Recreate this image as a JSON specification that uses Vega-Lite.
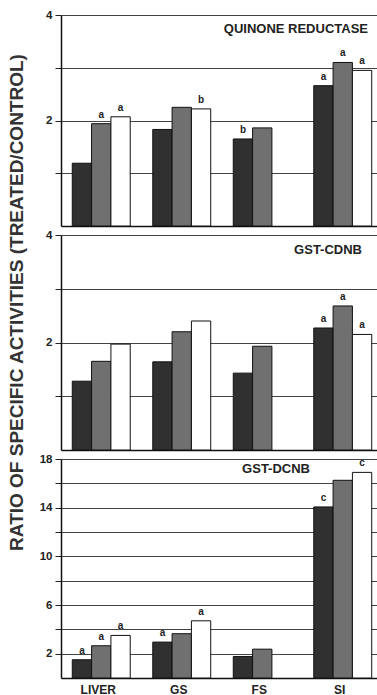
{
  "$schema": "https://vega.github.io/schema/vega-lite/v6.json",
  "padding": {"left": 6, "top": 9, "right": 0, "bottom": 0},
  "bounds": "flush",
  "spacing": 9,
  "config": {
    "view": {"stroke": null},
    "font": "Liberation Sans",
    "axis": {
      "labelFont": "Liberation Sans",
      "labelFontWeight": "bold",
      "labelColor": "#222",
      "domainColor": "#111",
      "domainWidth": 1.5,
      "tickColor": "#222",
      "gridColor": "#444",
      "gridWidth": 1,
      "gridOpacity": 1
    },
    "title": {"font": "Liberation Sans", "fontWeight": "bold", "fontSize": 13, "color": "#222"}
  },
  "datasets": {
    "d": [
      {"panel": "QR", "tissue": "LIVER", "trt": "T1", "value": 1.19, "sig": ""},
      {"panel": "QR", "tissue": "LIVER", "trt": "T2", "value": 1.94, "sig": "a"},
      {"panel": "QR", "tissue": "LIVER", "trt": "T3", "value": 2.07, "sig": "a"},
      {"panel": "QR", "tissue": "GS", "trt": "T1", "value": 1.83, "sig": ""},
      {"panel": "QR", "tissue": "GS", "trt": "T2", "value": 2.25, "sig": ""},
      {"panel": "QR", "tissue": "GS", "trt": "T3", "value": 2.22, "sig": "b"},
      {"panel": "QR", "tissue": "FS", "trt": "T1", "value": 1.65, "sig": "b"},
      {"panel": "QR", "tissue": "FS", "trt": "T2", "value": 1.86, "sig": ""},
      {"panel": "QR", "tissue": "SI", "trt": "T1", "value": 2.66, "sig": "a"},
      {"panel": "QR", "tissue": "SI", "trt": "T2", "value": 3.1, "sig": "a"},
      {"panel": "QR", "tissue": "SI", "trt": "T3", "value": 2.95, "sig": "a"},
      {"panel": "CDNB", "tissue": "LIVER", "trt": "T1", "value": 1.28, "sig": ""},
      {"panel": "CDNB", "tissue": "LIVER", "trt": "T2", "value": 1.65, "sig": ""},
      {"panel": "CDNB", "tissue": "LIVER", "trt": "T3", "value": 1.97, "sig": ""},
      {"panel": "CDNB", "tissue": "GS", "trt": "T1", "value": 1.64, "sig": ""},
      {"panel": "CDNB", "tissue": "GS", "trt": "T2", "value": 2.2, "sig": ""},
      {"panel": "CDNB", "tissue": "GS", "trt": "T3", "value": 2.4, "sig": ""},
      {"panel": "CDNB", "tissue": "FS", "trt": "T1", "value": 1.43, "sig": ""},
      {"panel": "CDNB", "tissue": "FS", "trt": "T2", "value": 1.93, "sig": ""},
      {"panel": "CDNB", "tissue": "SI", "trt": "T1", "value": 2.27, "sig": "a"},
      {"panel": "CDNB", "tissue": "SI", "trt": "T2", "value": 2.68, "sig": "a"},
      {"panel": "CDNB", "tissue": "SI", "trt": "T3", "value": 2.15, "sig": "a"},
      {"panel": "DCNB", "tissue": "LIVER", "trt": "T1", "value": 1.5, "sig": "a"},
      {"panel": "DCNB", "tissue": "LIVER", "trt": "T2", "value": 2.65, "sig": "a"},
      {"panel": "DCNB", "tissue": "LIVER", "trt": "T3", "value": 3.5, "sig": "a"},
      {"panel": "DCNB", "tissue": "GS", "trt": "T1", "value": 2.95, "sig": "a"},
      {"panel": "DCNB", "tissue": "GS", "trt": "T2", "value": 3.64, "sig": ""},
      {"panel": "DCNB", "tissue": "GS", "trt": "T3", "value": 4.7, "sig": "a"},
      {"panel": "DCNB", "tissue": "FS", "trt": "T1", "value": 1.77, "sig": ""},
      {"panel": "DCNB", "tissue": "FS", "trt": "T2", "value": 2.37, "sig": ""},
      {"panel": "DCNB", "tissue": "SI", "trt": "T1", "value": 14.06, "sig": "c"},
      {"panel": "DCNB", "tissue": "SI", "trt": "T2", "value": 16.25, "sig": ""},
      {"panel": "DCNB", "tissue": "SI", "trt": "T3", "value": 16.9, "sig": "c"}
    ]
  },
  "vconcat": [
    {
      "width": 322,
      "height": 211,
      "data": {"name": "d"},
      "transform": [{"filter": "datum.panel === 'QR'"}],
      "title": {"text": "QUINONE REDUCTASE", "anchor": "end", "frame": "group", "orient": "top", "baseline": "bottom", "offset": -40, "dx": -15},
      "encoding": {
        "x": {"field": "tissue", "type": "nominal", "sort": ["LIVER", "GS", "FS", "SI"],
          "scale": {"paddingInner": 0.28, "paddingOuter": 0.14},
          "axis": {"title": null, "labels": false, "ticks": false, "domain": true}},
        "xOffset": {"field": "trt", "type": "nominal", "scale": {"domain": ["T1", "T2", "T3"], "paddingInner": 0, "paddingOuter": 0}},
        "y": {"field": "value", "type": "quantitative",
          "scale": {"domain": [0, 4], "nice": false},
          "axis": {"title": null, "values": [1, 2, 3, 4], "labelExpr": "datum.value % 2 === 0 ? datum.label : ''", "grid": true, "tickSize": 6, "labelPadding": 3, "labelFontSize": 11.5}}
      },
      "layer": [
        {"mark": {"type": "bar", "stroke": "#111", "strokeWidth": 1},
          "encoding": {"color": {"field": "trt", "type": "nominal", "scale": {"domain": ["T1", "T2", "T3"], "range": ["#303030", "#707070", "#ffffff"]}, "legend": null}}},
        {"transform": [{"filter": "datum.sig !== ''"}],
          "mark": {"type": "text", "baseline": "bottom", "dy": -4, "fontWeight": "bold", "fontSize": 10, "color": "#222"},
          "encoding": {"text": {"field": "sig"}}}
      ]
    },
    {
      "width": 322,
      "height": 215,
      "data": {"name": "d"},
      "transform": [{"filter": "datum.panel === 'CDNB'"}],
      "title": {"text": "GST-CDNB", "anchor": "end", "frame": "group", "orient": "top", "baseline": "bottom", "offset": -217, "dx": -21},
      "encoding": {
        "x": {"field": "tissue", "type": "nominal", "sort": ["LIVER", "GS", "FS", "SI"],
          "scale": {"paddingInner": 0.28, "paddingOuter": 0.14},
          "axis": {"title": null, "labels": false, "ticks": false, "domain": true}},
        "xOffset": {"field": "trt", "type": "nominal", "scale": {"domain": ["T1", "T2", "T3"], "paddingInner": 0, "paddingOuter": 0}},
        "y": {"field": "value", "type": "quantitative",
          "scale": {"domain": [0, 4], "nice": false},
          "axis": {"title": "RATIO OF SPECIFIC ACTIVITIES (TREATED/CONTROL)", "titleFontSize": 19, "titleFontWeight": "bold", "titleColor": "#333", "titleAngle": -90, "titleAlign": "center", "titleBaseline": "middle", "titleX": -45, "titleY": 67,
            "values": [1, 2, 3, 4], "labelExpr": "datum.value % 2 === 0 ? datum.label : ''", "grid": true, "tickSize": 6, "labelPadding": 3, "labelFontSize": 11.5}}
      },
      "layer": [
        {"mark": {"type": "bar", "stroke": "#111", "strokeWidth": 1},
          "encoding": {"color": {"field": "trt", "type": "nominal", "scale": {"domain": ["T1", "T2", "T3"], "range": ["#303030", "#707070", "#ffffff"]}, "legend": null}}},
        {"transform": [{"filter": "datum.sig !== ''"}],
          "mark": {"type": "text", "baseline": "bottom", "dy": -4, "fontWeight": "bold", "fontSize": 10, "color": "#222"},
          "encoding": {"text": {"field": "sig"}}}
      ]
    },
    {
      "width": 322,
      "height": 219,
      "data": {"name": "d"},
      "transform": [{"filter": "datum.panel === 'DCNB'"}],
      "title": {"text": "GST-DCNB", "anchor": "end", "frame": "group", "orient": "top", "baseline": "bottom", "offset": -36, "dx": -73},
      "encoding": {
        "x": {"field": "tissue", "type": "nominal", "sort": ["LIVER", "GS", "FS", "SI"],
          "scale": {"paddingInner": 0.28, "paddingOuter": 0.14},
          "axis": {"title": null, "labelAngle": 0, "ticks": false, "domain": true, "labelPadding": 6, "labelFontSize": 12, "labelOffset": -3}},
        "xOffset": {"field": "trt", "type": "nominal", "scale": {"domain": ["T1", "T2", "T3"], "paddingInner": 0, "paddingOuter": 0}},
        "y": {"field": "value", "type": "quantitative",
          "scale": {"domain": [0, 18], "nice": false},
          "axis": {"title": null, "values": [2, 4, 6, 8, 10, 12, 14, 16, 18], "labelExpr": "(datum.value - 2) % 4 === 0 ? datum.label : ''", "grid": true, "tickSize": 6, "labelPadding": 3, "labelFontSize": 11.5}}
      },
      "layer": [
        {"mark": {"type": "bar", "stroke": "#111", "strokeWidth": 1},
          "encoding": {"color": {"field": "trt", "type": "nominal", "scale": {"domain": ["T1", "T2", "T3"], "range": ["#303030", "#707070", "#ffffff"]}, "legend": null}}},
        {"transform": [{"filter": "datum.sig !== ''"}],
          "mark": {"type": "text", "baseline": "bottom", "dy": -4, "fontWeight": "bold", "fontSize": 10, "color": "#222"},
          "encoding": {"text": {"field": "sig"}}}
      ]
    }
  ]
}
